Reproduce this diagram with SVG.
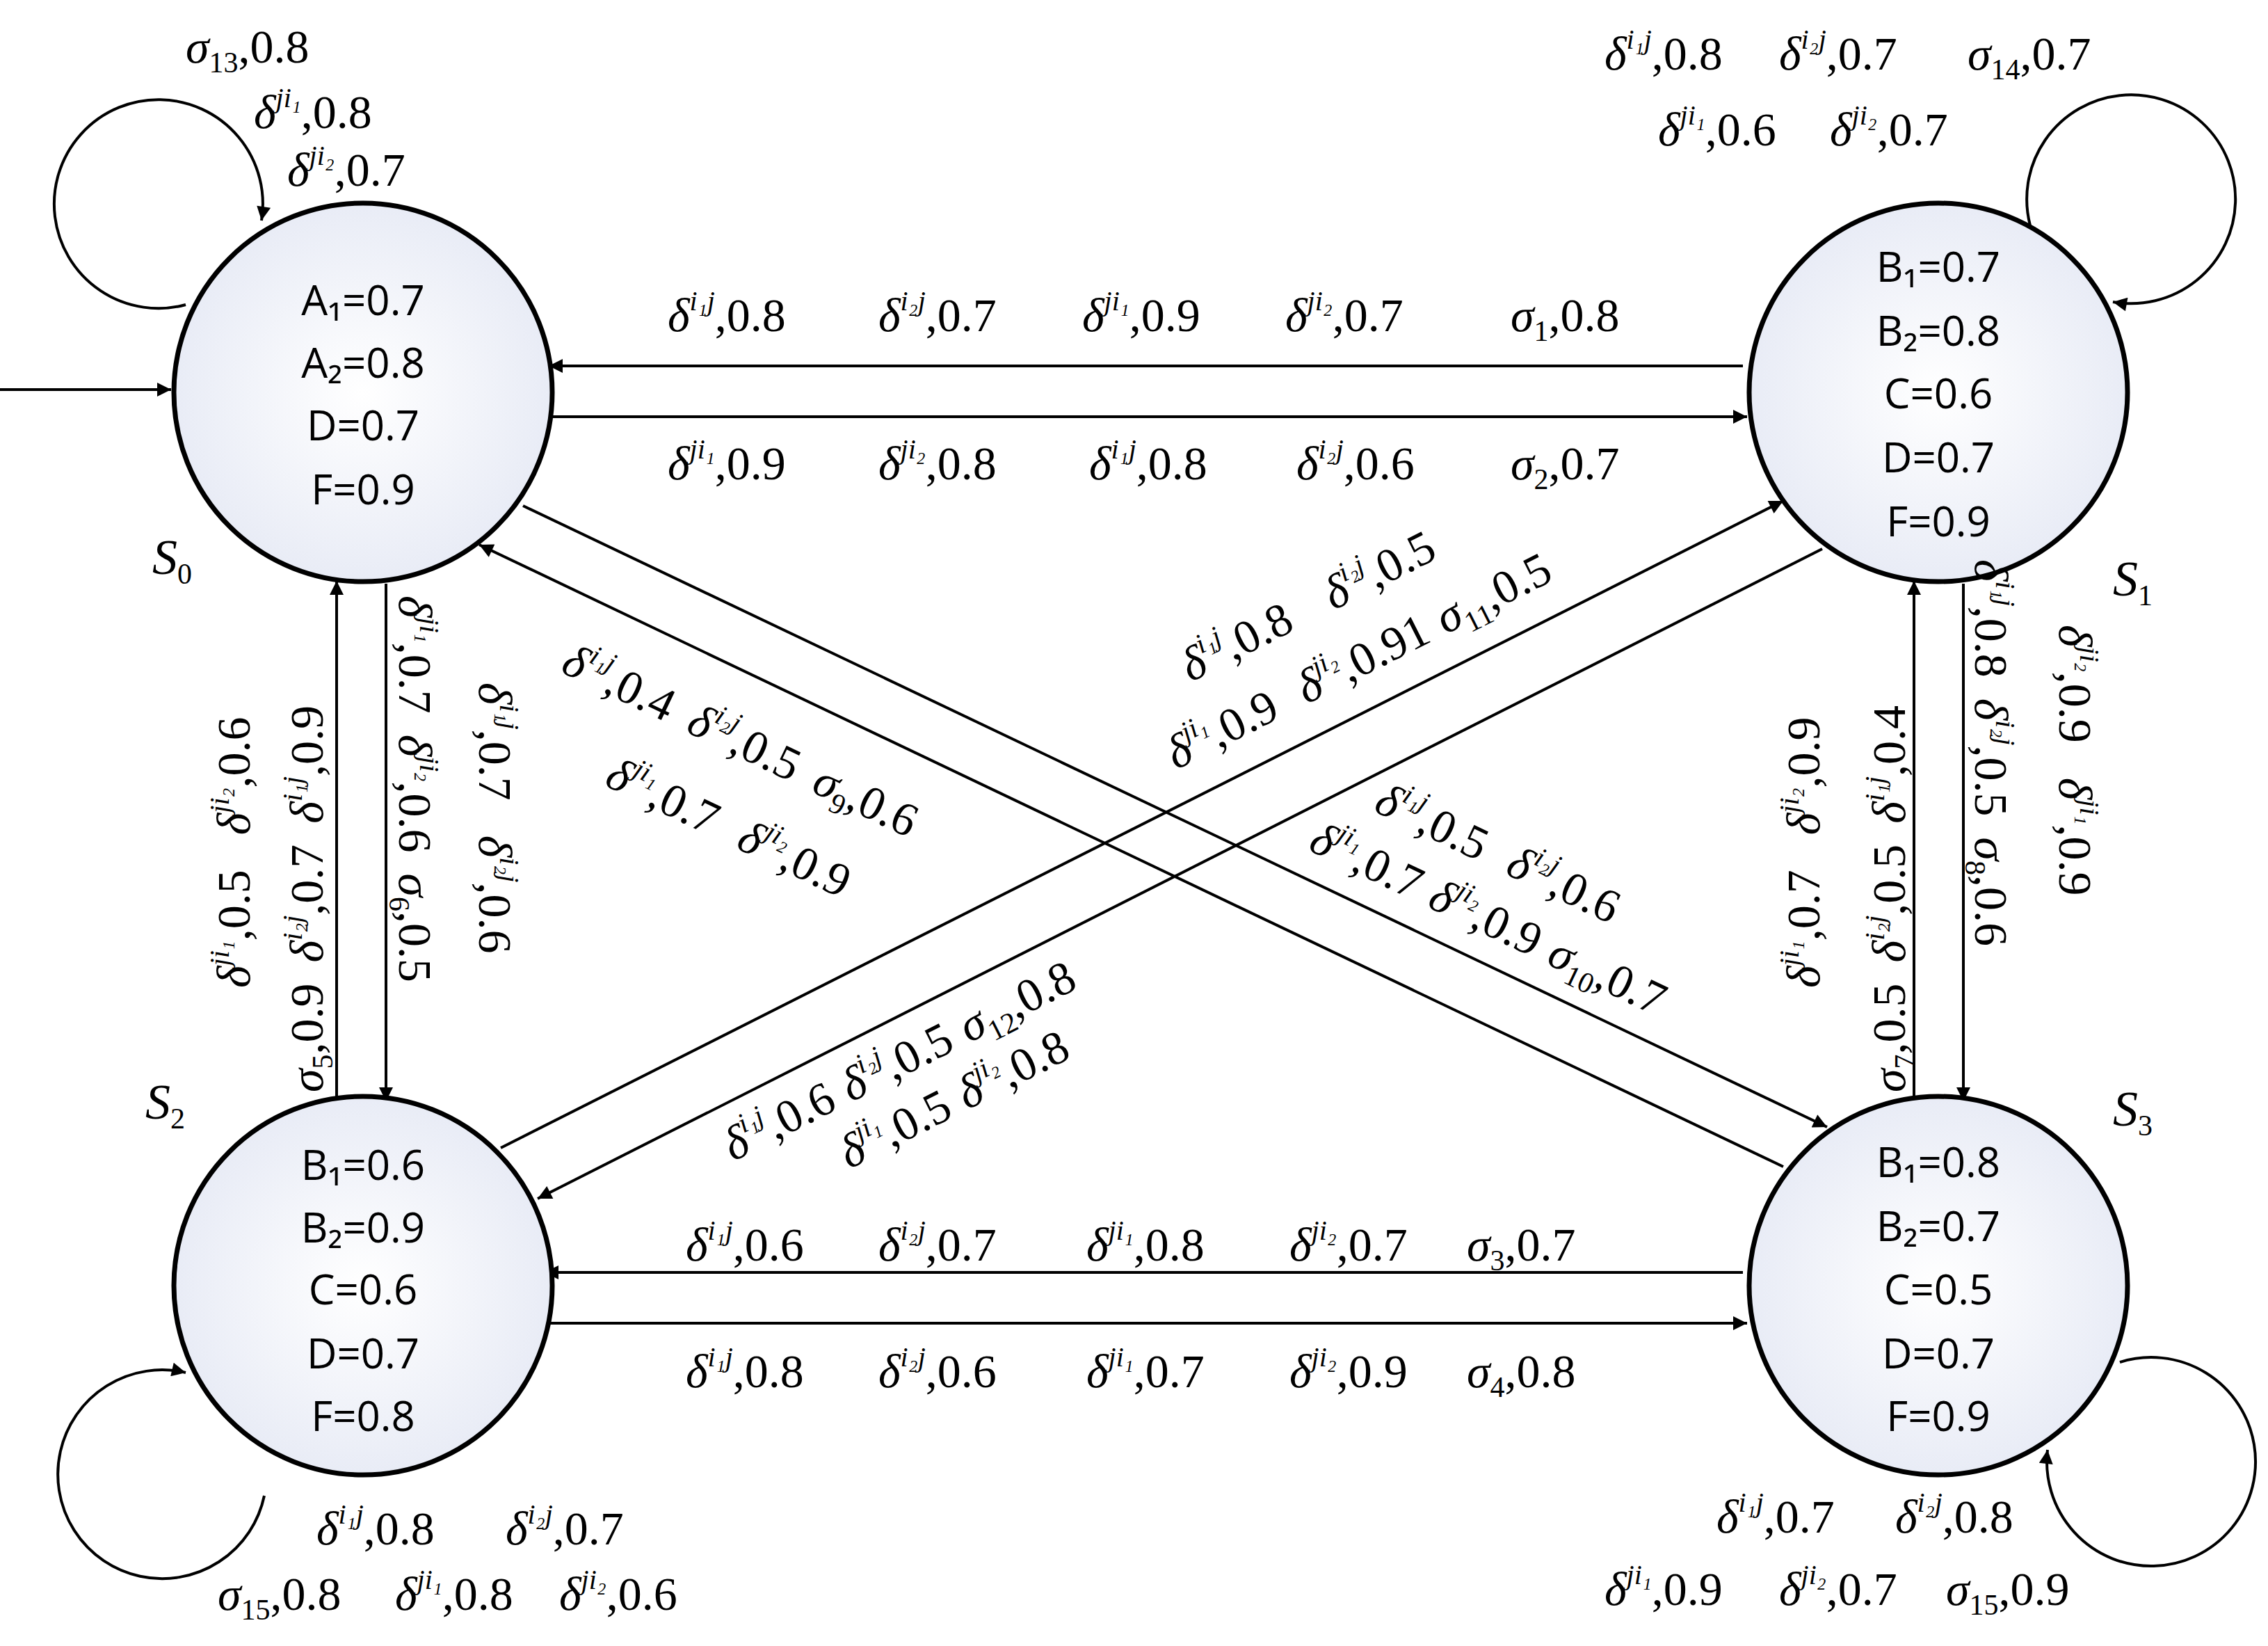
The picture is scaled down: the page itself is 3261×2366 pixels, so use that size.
<svg xmlns="http://www.w3.org/2000/svg" width="3261" height="2366" viewBox="0 0 3261 2366">
<style>
.l{font-family:"Liberation Serif",serif;font-size:68px;fill:#000}
.d{font-style:italic}
.p{font-size:40px;font-style:italic}
.b{font-size:42px}
.n{font-family:"Open Sans","Liberation Sans",sans-serif;font-size:60px;text-anchor:middle;fill:#000}
.st{font-family:"Liberation Serif",serif;font-size:72px;font-style:italic}
.e{fill:none;stroke:#000;stroke-width:4}
circle.node{fill:url(#g);stroke:#000;stroke-width:7}
</style>
<defs>
<radialGradient id="g" cx="0.5" cy="0.5" r="0.6"><stop offset="0" stop-color="#ffffff"/><stop offset="1" stop-color="#e4e8f4"/></radialGradient>
<marker id="a" viewBox="0 0 10 10" refX="10" refY="5" markerWidth="26" markerHeight="20" markerUnits="userSpaceOnUse" orient="auto"><path d="M0,0 L10,5 L0,10 z" fill="#000"/></marker>
</defs>
<rect width="3261" height="2366" fill="#fff"/>
<g id="connectors">
<line class="e" x1="0" y1="560" x2="246" y2="560" marker-end="url(#a)"/>
<line class="e" x1="2506" y1="526" x2="789" y2="526" marker-end="url(#a)"/>
<line class="e" x1="793" y1="599" x2="2512" y2="599" marker-end="url(#a)"/>
<line class="e" x1="2506" y1="1829" x2="783" y2="1829" marker-end="url(#a)"/>
<line class="e" x1="789" y1="1902" x2="2512" y2="1902" marker-end="url(#a)"/>
<line class="e" x1="484" y1="1576" x2="484" y2="835" marker-end="url(#a)"/>
<line class="e" x1="555" y1="839" x2="555" y2="1583" marker-end="url(#a)"/>
<line class="e" x1="2752" y1="1576" x2="2752" y2="835" marker-end="url(#a)"/>
<line class="e" x1="2823" y1="839" x2="2823" y2="1583" marker-end="url(#a)"/>
<line class="e" x1="752" y1="727" x2="2627" y2="1620" marker-end="url(#a)"/>
<line class="e" x1="2564" y1="1677" x2="689" y2="783" marker-end="url(#a)"/>
<line class="e" x1="720" y1="1650" x2="2564" y2="720" marker-end="url(#a)"/>
<line class="e" x1="2620" y1="789" x2="773" y2="1723" marker-end="url(#a)"/>
<path class="e" d="M267,438 A150,150 0 1,1 376,317" marker-end="url(#a)"/>
<path class="e" d="M2919,324 A150,150 0 1,1 3038,434" marker-end="url(#a)"/>
<path class="e" d="M380,2150 A150,150 0 1,1 267,1973" marker-end="url(#a)"/>
<path class="e" d="M3048,1958 A150,150 0 1,1 2944,2084" marker-end="url(#a)"/>
</g>
<g id="S0"><circle class="node" cx="522" cy="564" r="272"/>
<text class="n" x="522" y="453">A₁=0.7</text><text class="n" x="522" y="543">A₂=0.8</text><text class="n" x="522" y="633">D=0.7</text><text class="n" x="522" y="725">F=0.9</text>
<text class="st" x="219" y="825">S<tspan class="b" dy="14" style="font-style:normal">0</tspan></text></g>
<g id="S1"><circle class="node" cx="2787" cy="564" r="272"/>
<text class="n" x="2787" y="405">B₁=0.7</text><text class="n" x="2787" y="497">B₂=0.8</text><text class="n" x="2787" y="587">C=0.6</text><text class="n" x="2787" y="679">D=0.7</text><text class="n" x="2787" y="771">F=0.9</text>
<text class="st" x="3038" y="856">S<tspan class="b" dy="14" style="font-style:normal">1</tspan></text></g>
<g id="S2"><circle class="node" cx="522" cy="1848" r="272"/>
<text class="n" x="522" y="1696">B₁=0.6</text><text class="n" x="522" y="1786">B₂=0.9</text><text class="n" x="522" y="1875">C=0.6</text><text class="n" x="522" y="1967">D=0.7</text><text class="n" x="522" y="2057">F=0.8</text>
<text class="st" x="209" y="1608">S<tspan class="b" dy="14" style="font-style:normal">2</tspan></text></g>
<g id="S3"><circle class="node" cx="2787" cy="1848" r="272"/>
<text class="n" x="2787" y="1692">B₁=0.8</text><text class="n" x="2787" y="1784">B₂=0.7</text><text class="n" x="2787" y="1875">C=0.5</text><text class="n" x="2787" y="1967">D=0.7</text><text class="n" x="2787" y="2057">F=0.9</text>
<text class="st" x="3038" y="1618">S<tspan class="b" dy="14" style="font-style:normal">3</tspan></text></g>
<g id="labels">
<!-- top -->
<text class="l" x="960" y="476"><tspan class="d">δ</tspan><tspan class="p" dy="-30">i₁j</tspan><tspan dy="30">,0.8</tspan></text>
<text class="l" x="1263" y="476"><tspan class="d">δ</tspan><tspan class="p" dy="-30">i₂j</tspan><tspan dy="30">,0.7</tspan></text>
<text class="l" x="1556" y="476"><tspan class="d">δ</tspan><tspan class="p" dy="-30">ji₁</tspan><tspan dy="30">,0.9</tspan></text>
<text class="l" x="1848" y="476"><tspan class="d">δ</tspan><tspan class="p" dy="-30">ji₂</tspan><tspan dy="30">,0.7</tspan></text>
<text class="l" x="2172" y="476"><tspan class="d">σ</tspan><tspan class="b" dy="14">1</tspan><tspan dy="-14">,0.8</tspan></text>
<text class="l" x="960" y="689"><tspan class="d">δ</tspan><tspan class="p" dy="-30">ji₁</tspan><tspan dy="30">,0.9</tspan></text>
<text class="l" x="1263" y="689"><tspan class="d">δ</tspan><tspan class="p" dy="-30">ji₂</tspan><tspan dy="30">,0.8</tspan></text>
<text class="l" x="1566" y="689"><tspan class="d">δ</tspan><tspan class="p" dy="-30">i₁j</tspan><tspan dy="30">,0.8</tspan></text>
<text class="l" x="1864" y="689"><tspan class="d">δ</tspan><tspan class="p" dy="-30">i₂j</tspan><tspan dy="30">,0.6</tspan></text>
<text class="l" x="2172" y="689"><tspan class="d">σ</tspan><tspan class="b" dy="14">2</tspan><tspan dy="-14">,0.7</tspan></text>
<!-- bottom -->
<text class="l" x="986" y="1812"><tspan class="d">δ</tspan><tspan class="p" dy="-30">i₁j</tspan><tspan dy="30">,0.6</tspan></text>
<text class="l" x="1263" y="1812"><tspan class="d">δ</tspan><tspan class="p" dy="-30">i₂j</tspan><tspan dy="30">,0.7</tspan></text>
<text class="l" x="1562" y="1812"><tspan class="d">δ</tspan><tspan class="p" dy="-30">ji₁</tspan><tspan dy="30">,0.8</tspan></text>
<text class="l" x="1854" y="1812"><tspan class="d">δ</tspan><tspan class="p" dy="-30">ji₂</tspan><tspan dy="30">,0.7</tspan></text>
<text class="l" x="2109" y="1812"><tspan class="d">σ</tspan><tspan class="b" dy="14">3</tspan><tspan dy="-14">,0.7</tspan></text>
<text class="l" x="986" y="1994"><tspan class="d">δ</tspan><tspan class="p" dy="-30">i₁j</tspan><tspan dy="30">,0.8</tspan></text>
<text class="l" x="1263" y="1994"><tspan class="d">δ</tspan><tspan class="p" dy="-30">i₂j</tspan><tspan dy="30">,0.6</tspan></text>
<text class="l" x="1562" y="1994"><tspan class="d">δ</tspan><tspan class="p" dy="-30">ji₁</tspan><tspan dy="30">,0.7</tspan></text>
<text class="l" x="1854" y="1994"><tspan class="d">δ</tspan><tspan class="p" dy="-30">ji₂</tspan><tspan dy="30">,0.9</tspan></text>
<text class="l" x="2109" y="1994"><tspan class="d">σ</tspan><tspan class="b" dy="14">4</tspan><tspan dy="-14">,0.8</tspan></text>
<!-- loops -->
<text class="l" x="267" y="90"><tspan class="d">σ</tspan><tspan class="b" dy="14">13</tspan><tspan dy="-14">,0.8</tspan></text>
<text class="l" x="365" y="184"><tspan class="d">δ</tspan><tspan class="p" dy="-30">ji₁</tspan><tspan dy="30">,0.8</tspan></text>
<text class="l" x="413" y="267"><tspan class="d">δ</tspan><tspan class="p" dy="-30">ji₂</tspan><tspan dy="30">,0.7</tspan></text>
<text class="l" x="2307" y="100"><tspan class="d">δ</tspan><tspan class="p" dy="-30">i₁j</tspan><tspan dy="30">,0.8</tspan></text>
<text class="l" x="2558" y="100"><tspan class="d">δ</tspan><tspan class="p" dy="-30">i₂j</tspan><tspan dy="30">,0.7</tspan></text>
<text class="l" x="2829" y="100"><tspan class="d">σ</tspan><tspan class="b" dy="14">14</tspan><tspan dy="-14">,0.7</tspan></text>
<text class="l" x="2384" y="209"><tspan class="d">δ</tspan><tspan class="p" dy="-30">ji₁</tspan><tspan dy="30">,0.6</tspan></text>
<text class="l" x="2631" y="209"><tspan class="d">δ</tspan><tspan class="p" dy="-30">ji₂</tspan><tspan dy="30">,0.7</tspan></text>
<text class="l" x="455" y="2220"><tspan class="d">δ</tspan><tspan class="p" dy="-30">i₁j</tspan><tspan dy="30">,0.8</tspan></text>
<text class="l" x="727" y="2220"><tspan class="d">δ</tspan><tspan class="p" dy="-30">i₂j</tspan><tspan dy="30">,0.7</tspan></text>
<text class="l" x="313" y="2314"><tspan class="d">σ</tspan><tspan class="b" dy="14">15</tspan><tspan dy="-14">,0.8</tspan></text>
<text class="l" x="568" y="2314"><tspan class="d">δ</tspan><tspan class="p" dy="-30">ji₁</tspan><tspan dy="30">,0.8</tspan></text>
<text class="l" x="804" y="2314"><tspan class="d">δ</tspan><tspan class="p" dy="-30">ji₂</tspan><tspan dy="30">,0.6</tspan></text>
<text class="l" x="2468" y="2203"><tspan class="d">δ</tspan><tspan class="p" dy="-30">i₁j</tspan><tspan dy="30">,0.7</tspan></text>
<text class="l" x="2725" y="2203"><tspan class="d">δ</tspan><tspan class="p" dy="-30">i₂j</tspan><tspan dy="30">,0.8</tspan></text>
<text class="l" x="2307" y="2307"><tspan class="d">δ</tspan><tspan class="p" dy="-30">ji₁</tspan><tspan dy="30">,0.9</tspan></text>
<text class="l" x="2558" y="2307"><tspan class="d">δ</tspan><tspan class="p" dy="-30">ji₂</tspan><tspan dy="30">,0.7</tspan></text>
<text class="l" x="2798" y="2307"><tspan class="d">σ</tspan><tspan class="b" dy="14">15</tspan><tspan dy="-14">,0.9</tspan></text>
<!-- verticals left -->
<text class="l" transform="translate(359,1420) rotate(-90)"><tspan class="d">δ</tspan><tspan class="p" dy="-30">ji₁</tspan><tspan dy="30">,0.5</tspan><tspan class="d" dx="50">δ</tspan><tspan class="p" dy="-30">ji₂</tspan><tspan dy="30">,0.6</tspan></text>
<text class="l" transform="translate(464,1570) rotate(-90)"><tspan class="d">σ</tspan><tspan class="b" dy="14">5</tspan><tspan dy="-14">,0.9</tspan><tspan class="d" dx="30">δ</tspan><tspan class="p" dy="-30">i₂j</tspan><tspan dy="30">,0.7</tspan><tspan class="d" dx="30">δ</tspan><tspan class="p" dy="-30">i₁j</tspan><tspan dy="30">,0.9</tspan></text>
<text class="l" transform="translate(574,856) rotate(90)"><tspan class="d">δ</tspan><tspan class="p" dy="-30">ji₁</tspan><tspan dy="30">,0.7</tspan><tspan class="d" dx="30">δ</tspan><tspan class="p" dy="-30">ji₂</tspan><tspan dy="30">,0.6</tspan><tspan class="d" dx="30">σ</tspan><tspan class="b" dy="14">6</tspan><tspan dy="-14">,0.5</tspan></text>
<text class="l" transform="translate(689,981) rotate(90)"><tspan class="d">δ</tspan><tspan class="p" dy="-30">i₁j</tspan><tspan dy="30">,0.7</tspan><tspan class="d" dx="50">δ</tspan><tspan class="p" dy="-30">i₂j</tspan><tspan dy="30">,0.6</tspan></text>
<!-- verticals right -->
<text class="l" transform="translate(2616,1420) rotate(-90)"><tspan class="d">δ</tspan><tspan class="p" dy="-30">ji₁</tspan><tspan dy="30">,0.7</tspan><tspan class="d" dx="50">δ</tspan><tspan class="p" dy="-30">ji₂</tspan><tspan dy="30">,0.9</tspan></text>
<text class="l" transform="translate(2739,1570) rotate(-90)"><tspan class="d">σ</tspan><tspan class="b" dy="14">7</tspan><tspan dy="-14">,0.5</tspan><tspan class="d" dx="30">δ</tspan><tspan class="p" dy="-30">i₂j</tspan><tspan dy="30">,0.5</tspan><tspan class="d" dx="30">δ</tspan><tspan class="p" dy="-30">i₁j</tspan><tspan dy="30">,0.4</tspan></text>
<text class="l" transform="translate(2840,804) rotate(90)"><tspan class="d">δ</tspan><tspan class="p" dy="-30">i₁j</tspan><tspan dy="30">,0.8</tspan><tspan class="d" dx="30">δ</tspan><tspan class="p" dy="-30">i₂j</tspan><tspan dy="30">,0.5</tspan><tspan class="d" dx="30">σ</tspan><tspan class="b" dy="14">8</tspan><tspan dy="-14">,0.6</tspan></text>
<text class="l" transform="translate(2961,898) rotate(90)"><tspan class="d">δ</tspan><tspan class="p" dy="-30">ji₂</tspan><tspan dy="30">,0.9</tspan><tspan class="d" dx="50">δ</tspan><tspan class="p" dy="-30">ji₁</tspan><tspan dy="30">,0.9</tspan></text>
<!-- diagonals S0-S3 -->
<text class="l" transform="translate(804,965) rotate(25.5)"><tspan class="d">δ</tspan><tspan class="p" dy="-30">i₁j</tspan><tspan dy="30">,0.4</tspan><tspan class="d" dx="30">δ</tspan><tspan class="p" dy="-30">i₂j</tspan><tspan dy="30">,0.5</tspan><tspan class="d" dx="30">σ</tspan><tspan class="b" dy="14">9</tspan><tspan dy="-14">,0.6</tspan></text>
<text class="l" transform="translate(867,1128) rotate(25.5)"><tspan class="d">δ</tspan><tspan class="p" dy="-30">ji₁</tspan><tspan dy="30">,0.7</tspan><tspan class="d" dx="40">δ</tspan><tspan class="p" dy="-30">ji₂</tspan><tspan dy="30">,0.9</tspan></text>
<text class="l" transform="translate(1973,1165) rotate(25.5)"><tspan class="d">δ</tspan><tspan class="p" dy="-30">i₁j</tspan><tspan dy="30">,0.5</tspan><tspan class="d" dx="40">δ</tspan><tspan class="p" dy="-30">i₂j</tspan><tspan dy="30">,0.6</tspan></text>
<text class="l" transform="translate(1879,1221) rotate(25.5)"><tspan class="d">δ</tspan><tspan class="p" dy="-30">ji₁</tspan><tspan dy="30">,0.7</tspan><tspan class="d" dx="20">δ</tspan><tspan class="p" dy="-30">ji₂</tspan><tspan dy="30">,0.9</tspan><tspan class="d" dx="20">σ</tspan><tspan class="b" dy="14">10</tspan><tspan dy="-14">,0.7</tspan></text>
<!-- diagonals S2-S1 -->
<text class="l" transform="translate(1712,981) rotate(-26.7)"><tspan class="d">δ</tspan><tspan class="p" dy="-30">i₁j</tspan><tspan dy="30">,0.8</tspan><tspan class="d" dx="60">δ</tspan><tspan class="p" dy="-30">i₂j</tspan><tspan dy="30">,0.5</tspan></text>
<text class="l" transform="translate(1691,1107) rotate(-26.7)"><tspan class="d">δ</tspan><tspan class="p" dy="-30">ji₁</tspan><tspan dy="30">,0.9</tspan><tspan class="d" dx="40">δ</tspan><tspan class="p" dy="-30">ji₂</tspan><tspan dy="30">,0.91</tspan><tspan class="d" dx="20">σ</tspan><tspan class="b" dy="14">11</tspan><tspan dy="-14">,0.5</tspan></text>
<text class="l" transform="translate(1054,1670) rotate(-26.7)"><tspan class="d">δ</tspan><tspan class="p" dy="-30">i₁j</tspan><tspan dy="30">,0.6</tspan><tspan class="d" dx="20">δ</tspan><tspan class="p" dy="-30">i₂j</tspan><tspan dy="30">,0.5</tspan><tspan class="d" dx="20">σ</tspan><tspan class="b" dy="14">12</tspan><tspan dy="-14">,0.8</tspan></text>
<text class="l" transform="translate(1221,1681) rotate(-26.7)"><tspan class="d">δ</tspan><tspan class="p" dy="-30">ji₁</tspan><tspan dy="30">,0.5</tspan><tspan class="d" dx="20">δ</tspan><tspan class="p" dy="-30">ji₂</tspan><tspan dy="30">,0.8</tspan></text>
</g>
</svg>
